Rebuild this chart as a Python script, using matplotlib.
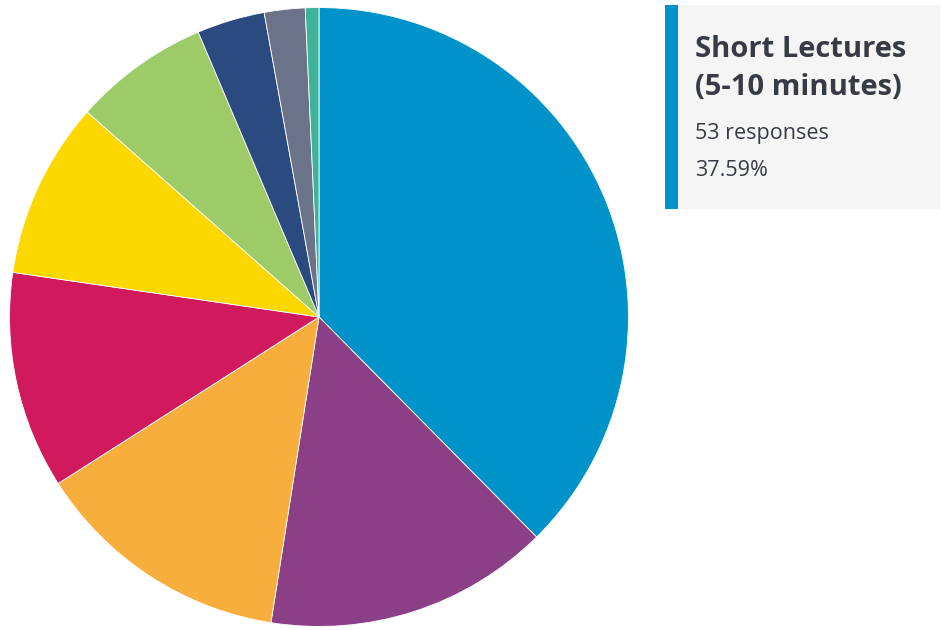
import matplotlib.pyplot as plt
from matplotlib.patches import Rectangle

# response counts per option, clockwise from 12 o'clock
counts = [53, 21, 19, 16, 13, 10, 5, 3, 1]
colors = ['#0093c9', '#8b3f86', '#f8ae3c', '#d1195e', '#fcd800',
          '#9ccb67', '#2b4b80', '#6b7388', '#3fb39a']
highlight_label = ['Short Lectures', '(5-10 minutes)']
highlight_idx = 0

W, H = 941, 630
fig = plt.figure(figsize=(W / 100, H / 100), dpi=100)
fig.patch.set_facecolor('white')

# pie
ax = fig.add_axes([8 / W, 2 / H, 622 / W, 622 / H])
ax.pie(counts, colors=colors, startangle=90, counterclock=False,
       wedgeprops=dict(edgecolor='white', linewidth=0.6))
ax.set_xlim(-1.005, 1.005)
ax.set_ylim(-1.005, 1.005)
ax.set_aspect('equal')
ax.axis('off')

# tooltip box for the hovered slice
total = sum(counts)
n = counts[highlight_idx]
pct = n / total * 100

fig.patches.append(Rectangle((665 / W, 1 - 209 / H), 275 / W, 204 / H,
                             transform=fig.transFigure, facecolor='#f5f5f5',
                             edgecolor='none'))
fig.patches.append(Rectangle((665 / W, 1 - 209 / H), 13 / W, 204 / H,
                             transform=fig.transFigure, facecolor=colors[highlight_idx],
                             edgecolor='none'))

txt = '#363b45'
fig.text(695 / W, 1 - 57 / H, highlight_label[0], fontsize=21, fontweight='bold',
         family='Open Sans', color=txt, va='baseline')
fig.text(695 / W, 1 - 95 / H, highlight_label[1], fontsize=21, fontweight='bold',
         family='Open Sans', color=txt, va='baseline')
fig.text(695 / W, 1 - 139 / H, f'{n} responses', fontsize=15.5,
         family='Open Sans', color=txt, va='baseline')
fig.text(695 / W, 1 - 176 / H, f'{pct:.2f}%', fontsize=15.5,
         family='Open Sans', color=txt, va='baseline')

fig.savefig('out.png', dpi=100)
